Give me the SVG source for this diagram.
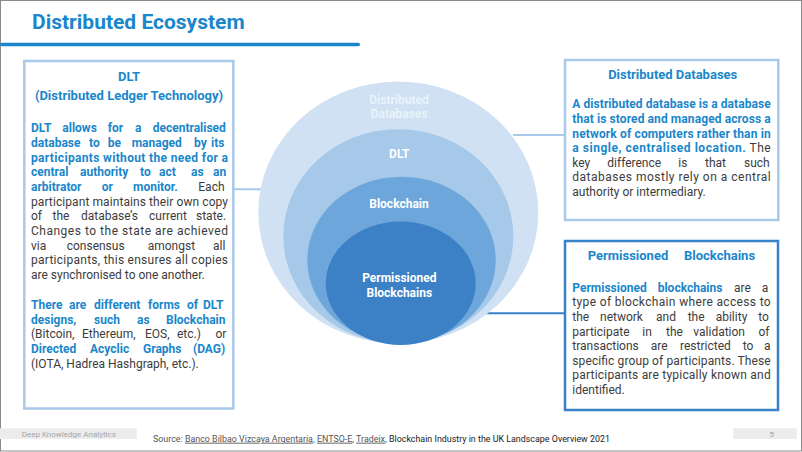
<svg xmlns="http://www.w3.org/2000/svg" width="802" height="452" viewBox="0 0 802 452">
<style>
text { font-family: Roboto, "Liberation Sans", sans-serif; }
.b { font-size: 12px; fill: #3c3c3c; }
.k { font-weight: 700; fill: #1a86cb; }
.h { font-size: 13px; font-weight: 700; fill: #1a86cb; text-anchor: middle; }
.cl { font-size: 12px; font-weight: 700; fill: #ffffff; text-anchor: middle; }
.box { fill: #ffffff; stroke-width: 2.5; }
.lite { stroke: #a9c9ea; }
.dark { stroke: #3a82c8; }
.con { fill: none; stroke-width: 2; }
.foot { font-size: 8px; fill: #a5a5a5; }
.src { font-size: 9px; fill: #555555; }
</style>
<rect x="0" y="0" width="802" height="452" fill="#ffffff"/>
<rect x="0.5" y="0.5" width="801" height="450.5" fill="none" stroke="#8a8a8a" stroke-width="1"/>

<g id="title">
<text x="32" y="29.3" font-size="21" font-weight="700" fill="#1a86cb">Distributed Ecosystem</text>
<rect x="0" y="42.7" width="360" height="3.6" rx="1.8" fill="#1a86cb"/>
</g>

<g id="connectors">
<line class="con lite" x1="234" y1="189.3" x2="295" y2="189.3"/>
<line class="con lite" x1="513" y1="135" x2="565" y2="135"/>
<line class="con dark" x1="465" y1="313.3" x2="565" y2="313.3"/>
</g>

<g id="circles">
<ellipse id="c-dd" cx="398.3" cy="212.5" rx="140" ry="131" fill="#cfe1f3"/>
<ellipse id="c-dlt" cx="398.3" cy="236.2" rx="115" ry="107" fill="#a6c8e9"/>
<ellipse id="c-bc" cx="401.5" cy="260" rx="94.2" ry="83.3" fill="#6da6db"/>
<ellipse id="c-pb" cx="400.7" cy="283.3" rx="75" ry="61.7" fill="#3c81c6"/>
<text class="cl" x="399" y="103.5" style="fill:#eaf3fb">Distributed</text>
<text class="cl" x="399" y="117.5" style="fill:#eaf3fb">Databases</text>
<text class="cl" x="399.3" y="157.5">DLT</text>
<text class="cl" x="399" y="207.5">Blockchain</text>
<text class="cl" x="399.3" y="282">Permissioned</text>
<text class="cl" x="399.3" y="296.5">Blockchains</text>
</g>

<g id="box-dlt">
<rect class="box lite" x="24.3" y="61" width="209" height="347.5"/>
<text class="h" x="129" y="80.7">DLT</text>
<text class="h" x="129" y="100">(Distributed Ledger Technology)</text>
<text class="b k"><tspan x="31" y="132.3">DLT</tspan><tspan x="62.3">allows</tspan><tspan x="107.7">for</tspan><tspan x="135">a</tspan><tspan x="152.7">decentralised</tspan></text>
<text class="b k"><tspan x="31" y="147">database</tspan><tspan x="89">to</tspan><tspan x="107.7">be</tspan><tspan x="131.7">managed</tspan><tspan x="194">by</tspan><tspan x="211">its</tspan></text>
<text class="b k" x="31" y="161.6" textLength="197" lengthAdjust="spacing">participants without the need for a</text>
<text class="b k"><tspan x="31" y="176.2">central</tspan><tspan x="80">authority</tspan><tspan x="140">to</tspan><tspan x="159">act</tspan><tspan x="191">as</tspan><tspan x="213">an</tspan></text>
<text class="b"><tspan class="k" x="31" y="190.8">arbitrator</tspan><tspan class="k" x="101.7">or</tspan><tspan class="k" x="133">monitor.</tspan><tspan x="198.3">Each</tspan></text>
<text class="b" x="31" y="205.5" textLength="197" lengthAdjust="spacing">participant maintains their own copy</text>
<text class="b"><tspan x="31" y="220.1">of</tspan><tspan x="52.5">the</tspan><tspan x="81">database’s</tspan><tspan x="149">current</tspan><tspan x="196">state.</tspan></text>
<text class="b" x="31" y="234.8" textLength="197" lengthAdjust="spacing">Changes to the state are achieved</text>
<text class="b"><tspan x="31" y="249.5">via</tspan><tspan x="66.7">consensus</tspan><tspan x="147.7">amongst</tspan><tspan x="213">all</tspan></text>
<text class="b" x="31" y="264.2" textLength="197" lengthAdjust="spacing">participants, this ensures all copies</text>
<text class="b" x="31" y="278.9">are synchronised to one another.</text>
<text class="b k"><tspan x="31" y="309">There</tspan><tspan x="69">are</tspan><tspan x="94">different</tspan><tspan x="148">forms</tspan><tspan x="187">of</tspan><tspan x="203">DLT</tspan></text>
<text class="b k"><tspan x="31" y="323.7">designs,</tspan><tspan x="94">such</tspan><tspan x="137">as</tspan><tspan x="166">Blockchain</tspan></text>
<text class="b"><tspan x="31" y="338.4">(Bitcoin,</tspan><tspan x="82">Ethereum,</tspan><tspan x="145">EOS,</tspan><tspan x="177">etc.)</tspan><tspan x="215.5">or</tspan></text>
<text class="b k"><tspan x="31" y="353.1">Directed</tspan><tspan x="90">Acyclic</tspan><tspan x="143">Graphs</tspan><tspan x="193">(DAG)</tspan></text>
<text class="b" x="31" y="367.8">(IOTA, Hadrea Hashgraph, etc.).</text>
</g>

<g id="box-dd">
<rect class="box lite" x="565" y="60" width="213.3" height="160"/>
<text class="h" x="672.7" y="79">Distributed Databases</text>
<text class="b k" x="572.3" y="108.3" textLength="198.4" lengthAdjust="spacing">A distributed database is a database</text>
<text class="b k" x="572.3" y="122.9" textLength="198.4" lengthAdjust="spacing">that is stored and managed across a</text>
<text class="b k" x="572.3" y="137.5" textLength="198.4" lengthAdjust="spacing">network of computers rather than in</text>
<text class="b" x="572.3" y="152.1" textLength="198.4" lengthAdjust="spacing"><tspan class="k">a single, centralised location.</tspan> The</text>
<text class="b"><tspan x="572.3" y="166.7">key</tspan><tspan x="607.3">difference</tspan><tspan x="678.3">is</tspan><tspan x="705">that</tspan><tspan x="744">such</tspan></text>
<text class="b" x="572.3" y="181.3" textLength="198.4" lengthAdjust="spacing">databases mostly rely on a central</text>
<text class="b" x="572.3" y="195.9">authority or intermediary.</text>
</g>

<g id="box-pb">
<rect class="box dark" x="565" y="241" width="213" height="169"/>
<text class="h" style="text-anchor:start" x="587.7" y="259.5">Permissioned</text>
<text class="h" style="text-anchor:start" x="684" y="259.5">Blockchains</text>
<text class="b"><tspan class="k" x="572.3" y="291.7">Permissioned</tspan><tspan class="k" x="657.7">blockchains</tspan><tspan x="734">are</tspan><tspan x="761.7">a</tspan></text>
<text class="b" x="572.3" y="306.3" textLength="198.4" lengthAdjust="spacing">type of blockchain where access to</text>
<text class="b"><tspan x="572.3" y="320.9">the</tspan><tspan x="600">network</tspan><tspan x="656">and</tspan><tspan x="687.7">the</tspan><tspan x="715.7">ability</tspan><tspan x="758.3">to</tspan></text>
<text class="b"><tspan x="572.3" y="335.5">participate</tspan><tspan x="642.3">in</tspan><tspan x="666">the</tspan><tspan x="693.3">validation</tspan><tspan x="758.5">of</tspan></text>
<text class="b"><tspan x="572.3" y="350.1">transactions</tspan><tspan x="650.7">are</tspan><tspan x="680">restricted</tspan><tspan x="742.7">to</tspan><tspan x="764">a</tspan></text>
<text class="b" x="572.3" y="364.7" textLength="198.4" lengthAdjust="spacing">specific group of participants. These</text>
<text class="b" x="572.3" y="379.3" textLength="198.4" lengthAdjust="spacing">participants are typically known and</text>
<text class="b" x="572.3" y="393.9">identified.</text>
</g>

<g id="footer">
<rect x="0" y="428.3" width="136.7" height="10.7" fill="#ececec"/>
<text class="foot" x="21.7" y="436.5">Deep Knowledge Analytics</text>
<rect x="733.3" y="428.3" width="63.4" height="10.7" fill="#ececec"/>
<text class="foot" x="771.7" y="437" text-anchor="middle">5</text>
<text class="src" x="153" y="441.7" textLength="457" lengthAdjust="spacingAndGlyphs">Source: <tspan text-decoration="underline">Banco Bilbao Vizcaya Argentaria</tspan>, <tspan text-decoration="underline">ENTSO-E</tspan>, <tspan text-decoration="underline">Tradeix</tspan>, <tspan fill="#1a1a1a">Blockchain Industry  in the UK Landscape Overview 2021</tspan></text>
</g>
</svg>
